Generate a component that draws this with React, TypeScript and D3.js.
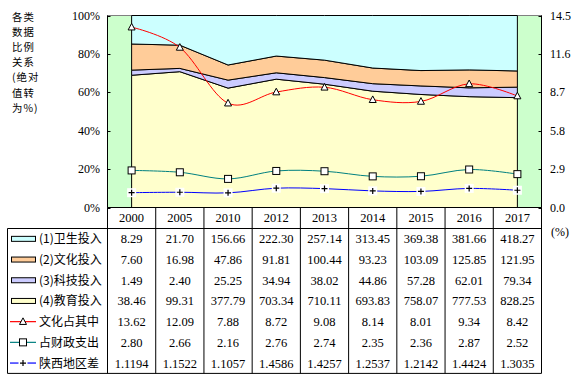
import React from "react";
import * as d3 from "d3";

const years = ["2000", "2005", "2010", "2012", "2013", "2014", "2015", "2016", "2017"];
const health = [8.29, 21.7, 156.66, 222.3, 257.14, 313.45, 369.38, 381.66, 418.27];
const culture = [7.6, 16.98, 47.86, 91.81, 100.44, 93.23, 103.09, 125.85, 121.95];
const science = [1.49, 2.4, 25.25, 34.94, 38.02, 44.86, 57.28, 62.01, 79.34];
const education = [38.46, 99.31, 377.79, 703.34, 710.11, 693.83, 758.07, 777.53, 828.25];
const cultShare = [13.62, 12.09, 7.88, 8.72, 9.08, 8.14, 8.01, 9.34, 8.42];
const fiscalShare = [2.8, 2.66, 2.16, 2.76, 2.74, 2.35, 2.36, 2.87, 2.52];
const regionGap = [1.1194, 1.1522, 1.1057, 1.4586, 1.4257, 1.2537, 1.2142, 1.4424, 1.3035];
const leftTicks = [0, 0.2, 0.4, 0.6, 0.8, 1.0];
const rightTicks = [0, 2.9, 5.8, 8.7, 11.6, 14.5];
const titleLines = ["各类", "数据", "比例", "关系", "(绝对", "值转", "为%)"];

const areaSeries = [
  { name: "(1)卫生投入", values: health, color: "#CCFFFF" },
  { name: "(2)文化投入", values: culture, color: "#FFCC99" },
  { name: "(3)科技投入", values: science, color: "#CCCCFF" },
  { name: "(4)教育投入", values: education, color: "#FFFFCC" },
];
const lineSeries = [
  { name: "文化占其中", values: cultShare, color: "#FF0000", marker: "tri", fmt: (v: number) => v.toFixed(2) },
  { name: "占财政支出", values: fiscalShare, color: "#008080", marker: "sq", fmt: (v: number) => v.toFixed(2) },
  { name: "陕西地区差", values: regionGap, color: "#0000FF", marker: "plus", fmt: (v: number) => v.toFixed(4) },
];

const L = 107.5, R = 541.5, T = 15.5, B = 207.5;
const tableTop = 228.5, rowH = 20.7, tableLeft = 7.5;
const serif = "'Liberation Serif', 'Times New Roman', serif";
const cjk = "'Noto Sans CJK SC', sans-serif";

function Marker({ type, x, y }: { type: string; x: number; y: number }) {
  if (type === "tri") {
    return <path d={`M${x},${y - 3.8}L${x + 3.5},${y + 2.8}L${x - 3.5},${y + 2.8}Z`} fill="#fff" stroke="#000" strokeWidth={1} />;
  }
  if (type === "sq") {
    return <rect x={x - 3.5} y={y - 3.5} width={7} height={7} fill="#fff" stroke="#000" strokeWidth={1} />;
  }
  return (
    <g>
      <rect x={x - 4.5} y={y - 4.5} width={9} height={9} fill="#fff" />
      <path d={`M${x - 3},${y}H${x + 3}M${x},${y - 3}V${y + 3}`} stroke="#000" strokeWidth={1.2} />
    </g>
  );
}

export default function App() {
  const x = d3.scalePoint<string>().domain(years).range([L, R]).padding(0.5);
  const yL = d3.scaleLinear().domain([0, 1]).range([B, T]);
  const yR = d3.scaleLinear().domain([0, 14.5]).range([B, T]);
  const step = x.step();

  const totals = years.map((_, i) => areaSeries.reduce((s, a) => s + a.values[i], 0));
  const stackOrder = [...areaSeries].reverse(); // education at bottom
  let base = years.map(() => 0);
  const layers = stackOrder.map((s) => {
    const y0 = base.slice();
    const y1 = base.map((b, i) => b + s.values[i] / totals[i]);
    base = y1;
    return { ...s, y0, y1 };
  });

  const smooth = d3
    .line<number>()
    .x((_, i) => x(years[i])!)
    .y((d) => yR(d))
    .curve(d3.curveCardinal.tension(0));

  const rowCenter = (r: number) => tableTop + rowH * r + rowH / 2;

  return (
    <svg width={581} height={379} style={{ position: "absolute", left: 0, top: 0, background: "#fff" }}>
      <rect x={L} y={T} width={R - L} height={B - T} fill="#CCFFCC" stroke="#808080" strokeWidth={1} />
      {layers.map((ly, li) => {
        const gen = d3
          .area<number>()
          .x((_, i) => x(years[i])!)
          .y0((_, i) => yL(ly.y0[i]))
          .y1((_, i) => yL(ly.y1[i]));
        return <path key={li} d={gen(years.map((_, i) => i))!} fill={ly.color} stroke="#000" strokeWidth={1} />;
      })}
      <line x1={L} x2={L} y1={T} y2={B} stroke="#000" />
      <line x1={R} x2={R} y1={T} y2={B} stroke="#000" />
      {leftTicks.map((t) => (
        <g key={"l" + t}>
          <line x1={L} x2={L + 3} y1={Math.round(yL(t)) + 0.5} y2={Math.round(yL(t)) + 0.5} stroke="#000" />
          <text x={100} y={yL(t) + 4} textAnchor="end" fontFamily={serif} fontSize={12} fill="#000">
            {d3.format(".0%")(t)}
          </text>
        </g>
      ))}
      {rightTicks.map((t) => (
        <g key={"r" + t}>
          <line x1={R - 3} x2={R} y1={Math.round(yR(t)) + 0.5} y2={Math.round(yR(t)) + 0.5} stroke="#000" />
          <text x={550} y={yR(t) + 4} textAnchor="start" fontFamily={serif} fontSize={12} fill="#000">
            {t.toFixed(1)}
          </text>
        </g>
      ))}
      <text x={551} y={236} fontFamily={serif} fontSize={12} fill="#000">(%)</text>
      {lineSeries.map((s) => (
        <g key={s.name}>
          <path d={smooth(s.values)!} fill="none" stroke={s.color} strokeWidth={1} />
          {s.values.map((v, i) => (
            <Marker key={i} type={s.marker} x={x(years[i])!} y={yR(v)} />
          ))}
        </g>
      ))}
      {titleLines.map((t, i) => (
        <text key={t} x={12} y={20.5 + i * 15.2} fontFamily={cjk} fontSize={10.4} letterSpacing={1} fill="#000">
          {t}
        </text>
      ))}
      <g fill="none" stroke="#000" strokeWidth={1}>
        <line x1={L} x2={R} y1={B} y2={B} />
        <line x1={tableLeft} x2={R} y1={tableTop} y2={tableTop} />
        <line x1={tableLeft} x2={R} y1={tableTop + rowH * 7} y2={tableTop + rowH * 7} />
        <line x1={tableLeft} x2={tableLeft} y1={tableTop} y2={tableTop + rowH * 7} />
        {d3.range(years.length + 1).map((k) => (
          <line key={k} x1={L + k * step} x2={L + k * step} y1={B} y2={tableTop + rowH * 7} />
        ))}
      </g>
      {years.map((yr) => (
        <text key={yr} x={x(yr)!} y={221.5} textAnchor="middle" fontFamily={serif} fontSize={12.5} fill="#000">
          {yr}
        </text>
      ))}
      {areaSeries.map((s, r) => (
        <g key={s.name}>
          <rect x={11.5} y={rowCenter(r) - 2.5} width={24} height={5} fill={s.color} stroke="#000" />
          <text x={39} y={rowCenter(r) + 4.5} fontFamily={cjk} fontSize={12} fill="#000">
            {s.name}
          </text>
          {s.values.map((v, i) => (
            <text key={i} x={x(years[i])!} y={rowCenter(r) + 4.5} textAnchor="middle" fontFamily={serif} fontSize={12.5} fill="#000">
              {v.toFixed(2)}
            </text>
          ))}
        </g>
      ))}
      {lineSeries.map((s, k) => {
        const r = k + 4;
        return (
          <g key={s.name}>
            <line x1={10} x2={36} y1={rowCenter(r)} y2={rowCenter(r)} stroke={s.color} strokeWidth={1.2} />
            <Marker type={s.marker} x={23} y={rowCenter(r)} />
            <text x={39} y={rowCenter(r) + 4.5} fontFamily={cjk} fontSize={12} fill="#000">
              {s.name}
            </text>
            {s.values.map((v, i) => (
              <text key={i} x={x(years[i])!} y={rowCenter(r) + 4.5} textAnchor="middle" fontFamily={serif} fontSize={12.5} fill="#000">
                {s.fmt(v)}
              </text>
            ))}
          </g>
        );
      })}
    </svg>
  );
}
